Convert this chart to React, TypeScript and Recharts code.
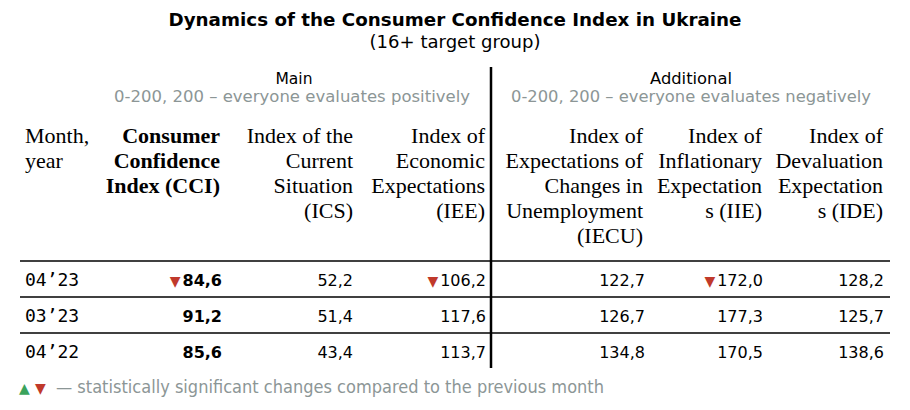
import React from "react";
import {
  ComposedChart,
  Scatter,
  XAxis,
  YAxis,
  ReferenceLine,
  Customized,
} from "recharts";

// ---- data ----
const months = ["04’23", "03’23", "04’22"];
const cci = [84.6, 91.2, 85.6];
const ics = [52.2, 51.4, 43.4];
const iee = [106.2, 117.6, 113.7];
const iecu = [122.7, 126.7, 134.8];
const iie = [172.0, 177.3, 170.5];
const ide = [128.2, 125.7, 138.6];
const cciSig = ["down", "", ""];
const icsSig = ["", "", ""];
const ieeSig = ["down", "", ""];
const iecuSig = ["", "", ""];
const iieSig = ["down", "", ""];
const ideSig = ["", "", ""];

const title = "Dynamics of the Consumer Confidence Index in Ukraine";
const subtitle = "(16+ target group)";
const groupMain = "Main";
const groupMainNote = "0-200, 200 – everyone evaluates positively";
const groupAdd = "Additional";
const groupAddNote = "0-200, 200 – everyone evaluates negatively";
const footnote = "— statistically significant changes compared to the previous month";

const headMonth = ["Month,", "year"];
const headCci = ["Consumer", "Confidence", "Index (CCI)"];
const headIcs = ["Index of the", "Current", "Situation", "(ICS)"];
const headIee = ["Index of", "Economic", "Expectations", "(IEE)"];
const headIecu = ["Index of", "Expectations of", "Changes in", "Unemployment", "(IECU)"];
const headIie = ["Index of", "Inflationary", "Expectation", "s (IIE)"];
const headIde = ["Index of", "Devaluation", "Expectation", "s (IDE)"];

// ---- layout / style ----
const W = 910;
const H = 410;
const GREY = "#8c9696";
const RED = "#c0392b";
const GREEN = "#3aa35c";
const SANS = "'DejaVu Sans', Verdana, sans-serif";
const SERIF = "'Liberation Serif', 'Times New Roman', serif";
const MONO = "'DejaVu Sans Mono', 'Liberation Mono', monospace";

const fmt = (v: number) => v.toFixed(1).replace(".", ",");

type Col = {
  key: string;
  x: number;
  anchor: "start" | "end";
  bold?: boolean;
  mono?: boolean;
  labels: string[];
  sig: string[];
  head: string[];
  headX: number;
};

const columns: Col[] = [
  { key: "month", x: 25, anchor: "start", mono: true, labels: months, sig: ["", "", ""], head: headMonth, headX: 25 },
  { key: "cci", x: 222, anchor: "end", bold: true, labels: cci.map(fmt), sig: cciSig, head: headCci, headX: 220 },
  { key: "ics", x: 353, anchor: "end", labels: ics.map(fmt), sig: icsSig, head: headIcs, headX: 353 },
  { key: "iee", x: 486, anchor: "end", labels: iee.map(fmt), sig: ieeSig, head: headIee, headX: 485 },
  { key: "iecu", x: 645, anchor: "end", labels: iecu.map(fmt), sig: iecuSig, head: headIecu, headX: 643 },
  { key: "iie", x: 763, anchor: "end", labels: iie.map(fmt), sig: iieSig, head: headIie, headX: 762 },
  { key: "ide", x: 884, anchor: "end", labels: ide.map(fmt), sig: ideSig, head: headIde, headX: 883 },
];

const makeShape = (col: Col) => (props: any) => {
  const { cx, cy, payload } = props;
  if (cx == null || cy == null) return <g />;
  const sig = payload.sig;
  return (
    <text
      x={cx}
      y={cy + 7}
      textAnchor={col.anchor}
      fontFamily={col.mono ? MONO : SANS}
      fontSize={col.mono ? 18 : 16}
      fontWeight={col.bold ? "bold" : "normal"}
      fill="#000"
    >
      {sig === "down" && (
        <tspan fill={RED} fontSize={14} fontWeight="normal">▼</tspan>
      )}
      {sig === "up" && (
        <tspan fill={GREEN} fontSize={14} fontWeight="normal">▲</tspan>
      )}
      <tspan dx={sig ? 2 : 0}>{payload.label}</tspan>
    </text>
  );
};

const Decorations = () => (
  <g>
    <text x={455} y={26} textAnchor="middle" fontFamily={SANS} fontWeight="bold" fontSize={17.5}
      textLength={573} lengthAdjust="spacingAndGlyphs" fill="#000">{title}</text>
    <text x={455} y={48} textAnchor="middle" fontFamily={SANS} fontSize={17.5}
      textLength={171} lengthAdjust="spacingAndGlyphs" fill="#000">{subtitle}</text>

    <text x={294} y={84} textAnchor="middle" fontFamily={SANS} fontSize={16}
      textLength={37} lengthAdjust="spacingAndGlyphs" fill="#000">{groupMain}</text>
    <text x={292} y={102} textAnchor="middle" fontFamily={SANS} fontSize={15.5}
      textLength={356} lengthAdjust="spacingAndGlyphs" fill={GREY}>{groupMainNote}</text>
    <text x={691} y={84} textAnchor="middle" fontFamily={SANS} fontSize={16}
      textLength={82} lengthAdjust="spacingAndGlyphs" fill="#000">{groupAdd}</text>
    <text x={691} y={102} textAnchor="middle" fontFamily={SANS} fontSize={15.5}
      textLength={360} lengthAdjust="spacingAndGlyphs" fill={GREY}>{groupAddNote}</text>

    {columns.map((c) =>
      c.head.map((line, i) => (
        <text
          key={c.key + i}
          x={c.headX}
          y={143 + i * 25}
          textAnchor={c.anchor}
          fontFamily={SERIF}
          fontSize={22}
          fontWeight={c.bold ? "bold" : "normal"}
          fill="#000"
        >
          {line}
        </text>
      ))
    )}

    <line x1={491} y1={67} x2={491} y2={368} stroke="#000" strokeWidth={2.5} />

    <text x={19} y={393} fontFamily={SANS} fontSize={14} fill={GREEN}>▲</text>
    <text x={35} y={393} fontFamily={SANS} fontSize={14} fill={RED}>▼</text>
    <text x={56} y={393} fontFamily={SANS} fontSize={17} textLength={548}
      lengthAdjust="spacingAndGlyphs" fill={GREY}>{footnote}</text>
  </g>
);

export default function App() {
  return (
    <div style={{ position: "absolute", left: 0, top: 0, width: W, height: H, background: "#fff" }}>
      <style>{`body{margin:0;}`}</style>
      <ComposedChart
        width={W}
        height={H}
        margin={{ top: 261, right: 20, bottom: 41, left: 20 }}
      >
        <XAxis type="number" dataKey="x" domain={[20, 890]} hide allowDataOverflow />
        <YAxis type="number" dataKey="y" domain={[0, 3]} reversed hide allowDataOverflow />
        <Customized component={<Decorations />} />
        {[0, 1, 2].map((r) => (
          <ReferenceLine key={r} y={r} stroke="#000" strokeWidth={1.5} ifOverflow="visible" />
        ))}
        {columns.map((c) => (
          <Scatter
            key={c.key}
            name={c.key}
            data={c.labels.map((label, i) => ({ x: c.x, y: i + 0.5, label, sig: c.sig[i] }))}
            shape={makeShape(c)}
            isAnimationActive={false}
          />
        ))}
      </ComposedChart>
    </div>
  );
}
